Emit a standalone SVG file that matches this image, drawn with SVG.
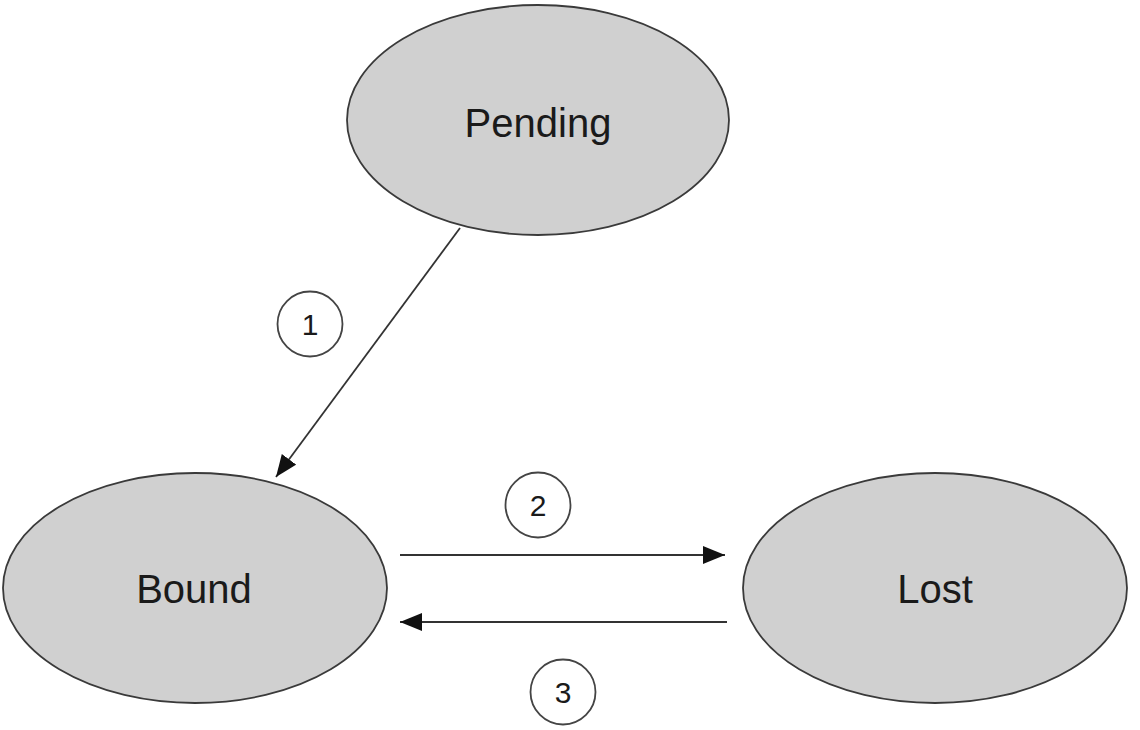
<svg xmlns="http://www.w3.org/2000/svg" width="1140" height="730" viewBox="0 0 1140 730">
<style>
.state{fill:#d0d0d0;stroke:#3a3a3a;stroke-width:1.8}
.stext{font-family:"Liberation Sans",Arial,sans-serif;font-size:40px;fill:#1a1a1a;text-anchor:middle}
.badge{fill:#ffffff;stroke:#444;stroke-width:1.8}
.btext{font-family:"Liberation Sans",Arial,sans-serif;font-size:30px;fill:#1a1a1a;text-anchor:middle}
.edge{stroke:#333;stroke-width:1.8;fill:none;marker-end:url(#arrow)}
</style>
<defs>
<marker id="arrow" markerUnits="userSpaceOnUse" markerWidth="24" markerHeight="20" refX="22" refY="9" orient="auto">
<path d="M0,0 L22,9 L0,18 z" fill="#111"/>
</marker>
</defs>
<rect width="1140" height="730" fill="#ffffff"/>
<g id="pending">
<ellipse class="state" cx="538" cy="120" rx="191" ry="115"/>
<text class="stext" x="538" y="137">Pending</text>
</g>
<g id="bound">
<ellipse class="state" cx="195" cy="588" rx="192" ry="115"/>
<text class="stext" x="194" y="603">Bound</text>
</g>
<g id="lost">
<ellipse class="state" cx="935" cy="588" rx="192" ry="115"/>
<text class="stext" x="935" y="603">Lost</text>
</g>
<g id="connectors">
<line class="edge" x1="460" y1="228" x2="276" y2="477"/>
<line class="edge" x1="400" y1="555" x2="725" y2="555"/>
<line class="edge" x1="727" y1="622" x2="400" y2="622"/>
</g>
<g id="label1">
<circle class="badge" cx="310" cy="324" r="32.5"/>
<text class="btext" x="310" y="335">1</text>
</g>
<g id="label2">
<circle class="badge" cx="538" cy="505" r="32.5"/>
<text class="btext" x="538" y="516">2</text>
</g>
<g id="label3">
<circle class="badge" cx="563" cy="692" r="32.5"/>
<text class="btext" x="563" y="703">3</text>
</g>
</svg>
